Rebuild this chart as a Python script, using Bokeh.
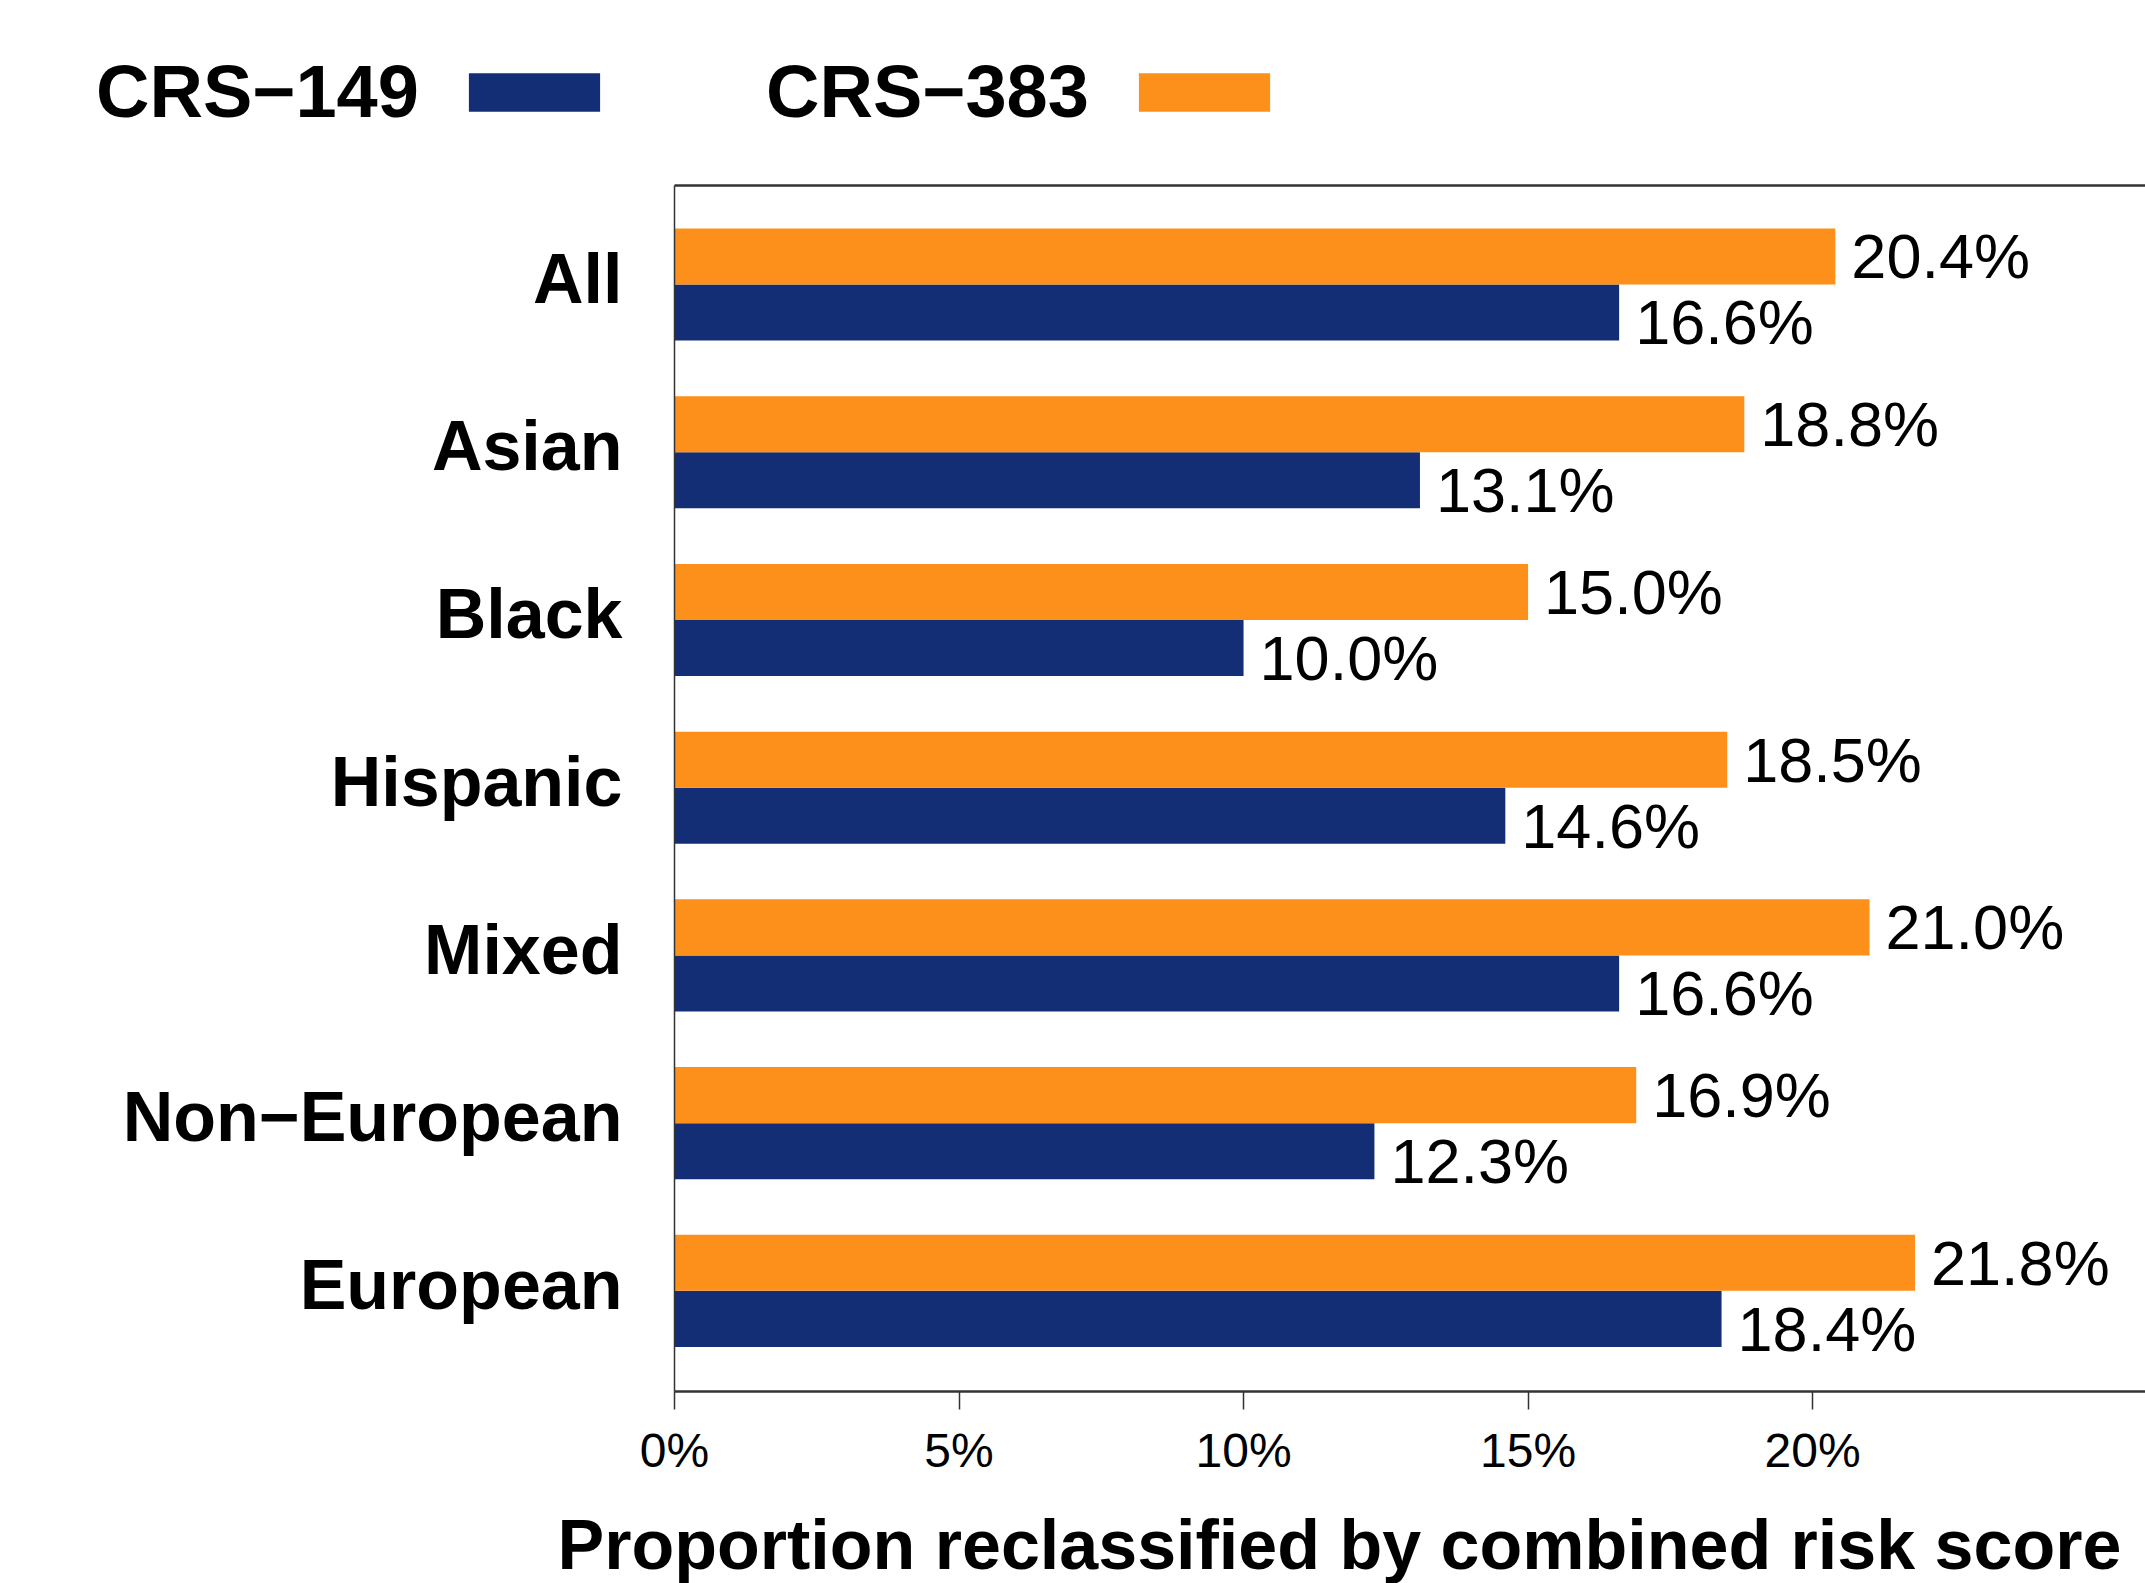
from bokeh.plotting import figure
from bokeh.layouts import column, row
from bokeh.models import (ColumnDataSource, FixedTicker, LinearAxis, Legend, LegendItem,
                          Label, PrintfTickFormatter, Range1d)
from bokeh.core.properties import value
from bokeh.embed import file_html
from bokeh.resources import INLINE

# ---- data ----
categories = ["All", "Asian", "Black", "Hispanic", "Mixed", "Non\u2212European", "European"]
crs_149 = [16.6, 13.1, 10.0, 14.6, 16.6, 12.3, 18.4]
crs_383 = [20.4, 18.8, 15.0, 18.5, 21.0, 16.9, 21.8]
series_names = ["CRS\u2212149", "CRS\u2212383"]
x_ticks = [0, 5, 10, 15, 20]
x_label = "Proportion reclassified by combined risk score"

# ---- style ----
NAVY = "#142E75"
ORANGE = "#FD8F1B"
FONT = "Liberation Sans"
AXIS_COLOR = "#333333"
W = 2145
LABEL_SHIFT = 0.035   # category labels sit slightly above the bar-pair centre


def bare(fig):
    fig.outline_line_color = None
    fig.background_fill_color = "white"
    fig.border_fill_color = "white"
    fig.xgrid.visible = False
    fig.ygrid.visible = False
    return fig


n = len(categories)
pos = [n - 1 - i for i in range(n)]
BAR_H = 0.334

src = ColumnDataSource(dict(
    cat=categories,
    y149=[q - BAR_H / 2 for q in pos],
    y383=[q + BAR_H / 2 for q in pos],
    v149=crs_149,
    v383=crs_383,
    t149=[f"{v:.1f}%" for v in crs_149],
    t383=[f"{v:.1f}%" for v in crs_383],
))

# ---------------- legend strip ----------------
# (series glyphs are attached here only so the legend can show their colours;
#  the ranges keep the bars themselves far out of view)
leg = bare(figure(width=W, height=181, output_backend="svg", toolbar_location=None,
                  x_range=Range1d(-10, -9), y_range=Range1d(-10, -9),
                  x_axis_type=None, y_axis_type=None,
                  min_border=0, min_border_left=0, min_border_right=0,
                  min_border_top=0, min_border_bottom=0))
blank = leg.hbar(y="y149", left=0, right="v149", height=BAR_H, source=src,
                 fill_alpha=0, line_alpha=0)
sw149 = leg.hbar(y="y149", left=0, right="v149", height=BAR_H, source=src,
                 fill_color=NAVY, line_color=None)
sw383 = leg.hbar(y="y383", left=0, right="v383", height=BAR_H, source=src,
                 fill_color=ORANGE, line_color=None)


def make_legend(label, swatch, loc):
    lg = Legend(items=[LegendItem(label=label, renderers=[blank]),
                       LegendItem(label="", renderers=[swatch])],
                orientation="horizontal", location=loc)
    lg.glyph_width = 164
    lg.glyph_height = 48
    lg.label_standoff = 0
    lg.spacing = 33
    lg.padding = 0
    lg.margin = 0
    lg.border_line_color = None
    lg.background_fill_alpha = 0
    lg.label_text_font = FONT
    lg.label_text_font_style = "bold"
    lg.label_text_font_size = "74px"
    lg.label_text_color = "black"
    return lg


leg.add_layout(make_legend(series_names[0], sw149, (-68, 47)), "center")
leg.add_layout(make_legend(series_names[1], sw383, (602, 47)), "center")

# ---------------- main chart ----------------
p = bare(figure(width=W, height=1310, output_backend="svg", toolbar_location=None,
                x_range=Range1d(0, 25.85), y_range=Range1d(-0.6, n - 1 + 0.59),
                min_border_left=674, min_border_right=0, min_border_top=4,
                min_border_bottom=100))

p.hbar(y="y149", left=0, right="v149", height=BAR_H, source=src,
       fill_color=NAVY, line_color=None)
p.hbar(y="y383", left=0, right="v383", height=BAR_H, source=src,
       fill_color=ORANGE, line_color=None)

p.text(x="v383", y="y383", text="t383", source=src, x_offset=16, y_offset=0,
       text_baseline="middle", text_align="left", text_font=value(FONT),
       text_font_size="63px", text_color="black")
p.text(x="v149", y="y149", text="t149", source=src, x_offset=16, y_offset=10,
       text_baseline="middle", text_align="left", text_font=value(FONT),
       text_font_size="63px", text_color="black")

xa = p.xaxis[0]
xa.ticker = FixedTicker(ticks=x_ticks)
xa.formatter = PrintfTickFormatter(format="%d%%")
xa.major_tick_out = 18
xa.major_tick_in = 0
xa.minor_tick_out = 0
xa.minor_tick_in = 0
xa.axis_line_width = 2.5
xa.axis_line_color = AXIS_COLOR
xa.major_tick_line_width = 1.5
xa.major_tick_line_color = AXIS_COLOR
xa.major_label_text_font = FONT
xa.major_label_text_font_size = "48px"
xa.major_label_text_color = "black"
xa.major_label_standoff = 14

ya = p.yaxis[0]
label_pos = [q + LABEL_SHIFT for q in pos]
ya.ticker = FixedTicker(ticks=label_pos)
ya.major_label_overrides = {q: c for q, c in zip(label_pos, categories)}
ya.major_tick_out = 0
ya.major_tick_in = 0
ya.minor_tick_out = 0
ya.minor_tick_in = 0
ya.axis_line_width = 1.5
ya.axis_line_color = AXIS_COLOR
ya.major_label_text_font = FONT
ya.major_label_text_font_style = "bold"
ya.major_label_text_font_size = "70px"
ya.major_label_text_color = "black"
ya.major_label_standoff = 52

top = LinearAxis(ticker=FixedTicker(ticks=[]), axis_line_width=2.5,
                 axis_line_color=AXIS_COLOR, major_tick_out=0, major_tick_in=0,
                 minor_tick_out=0, minor_tick_in=0, major_label_standoff=0)
p.add_layout(top, "above")

# ---------------- axis title strip ----------------
tf = bare(figure(width=W, height=92, output_backend="svg", toolbar_location=None,
                 x_range=Range1d(0, 1), y_range=Range1d(0, 1),
                 x_axis_type=None, y_axis_type=None,
                 min_border=0, min_border_left=0, min_border_right=0,
                 min_border_top=0, min_border_bottom=0))
tf.add_layout(Label(text=x_label, x=1339, y=39, x_units="screen", y_units="screen",
                    text_align="center", text_baseline="alphabetic",
                    text_font=FONT, text_font_size="70px", text_font_style="bold",
                    text_color="black"))

layout = column(row(leg), p, row(tf), spacing=0)
open("out.html", "w").write(file_html(layout, INLINE))
